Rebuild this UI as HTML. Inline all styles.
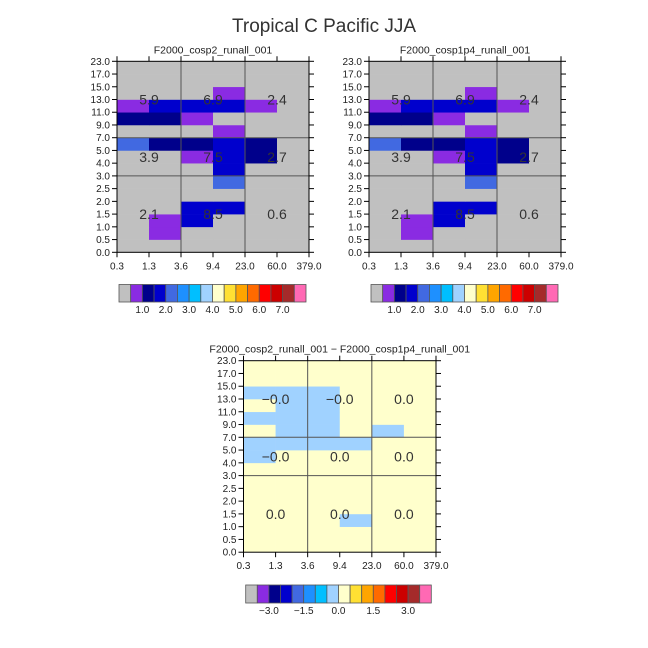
<!DOCTYPE html>
<html><head><meta charset="utf-8">
<style>
html,body{margin:0;padding:0;background:#fff;}
svg{display:block;font-family:"Liberation Sans",sans-serif;}
</style></head>
<body>
<svg id="chart" width="648" height="648" viewBox="0 0 648 648" xmlns="http://www.w3.org/2000/svg">
<text x="324" y="32" text-anchor="middle" font-size="19" fill="#333">Tropical C Pacific JJA</text>
</svg>
<script>
const xTickLabels = ["0.3","1.3","3.6","9.4","23.0","60.0","379.0"];
const yTickLabels = ["0.0","0.5","1.0","1.5","2.0","2.5","3.0","4.0","5.0","7.0","9.0","11.0","13.0","15.0","17.0","23.0"];
// values[row][col], row 0 = bottom
const model1Values = [
 [0,0,0,0,0,0],
 [0,0.7,0,0,0,0],
 [0,0.7,1.7,0,0,0],
 [0,0,1.7,1.7,0,0],
 [0,0,0,0,0,0],
 [0,0,0,2.2,0,0],
 [0,0,0,1.7,0,0],
 [0,0,0.7,1.7,1.2,0],
 [2.2,1.2,1.2,1.7,1.2,0],
 [0,0,0,0.7,0,0],
 [1.2,1.2,0.7,0,0,0],
 [0.7,1.7,1.7,1.7,0.7,0],
 [0,0,0,0.7,0,0],
 [0,0,0,0,0,0],
 [0,0,0,0,0,0]
];
const model2Values = model1Values;
const diffValues = [
 [0.1,0.1,0.1,0.1,0.1,0.1],
 [0.1,0.1,0.1,0.1,0.1,0.1],
 [0.1,0.1,0.1,-0.1,0.1,0.1],
 [0.1,0.1,0.1,0.1,0.1,0.1],
 [0.1,0.1,0.1,0.1,0.1,0.1],
 [0.1,0.1,0.1,0.1,0.1,0.1],
 [0.1,0.1,0.1,0.1,0.1,0.1],
 [-0.1,0.1,0.1,0.1,0.1,0.1],
 [-0.1,-0.1,-0.1,-0.1,0.1,0.1],
 [0.1,-0.1,-0.1,0.1,-0.1,0.1],
 [-0.1,-0.1,-0.1,0.1,0.1,0.1],
 [0.1,-0.1,-0.1,0.1,0.1,0.1],
 [-0.1,-0.1,-0.1,0.1,0.1,0.1],
 [0.1,0.1,0.1,0.1,0.1,0.1],
 [0.1,0.1,0.1,0.1,0.1,0.1]
];
// block labels: [bottom, middle, top][left, mid, right]
const model1Labels = [["2.1","8.5","0.6"],["3.9","7.5","2.7"],["5.9","6.9","2.4"]];
const model2Labels = [["2.1","8.5","0.6"],["3.9","7.5","2.7"],["5.9","6.9","2.4"]];
const diffLabels = [["0.0","0.0","0.0"],["\u22120.0","0.0","0.0"],["\u22120.0","\u22120.0","0.0"]];
const colors = ["#c0c0c0","#8a2be2","#00008b","#0000cd","#4169e1","#1e90ff","#00bfff","#a0d2ff","#ffffcc","#ffe033","#ffa500","#ff6a00","#ff0000","#cc0000","#a52a2a","#ff69b4"];
const absLevels = [0.5,1,1.5,2,2.5,3,3.5,4,4.5,5,5.5,6,6.5,7,7.5];
const absCbLabels = ["1.0","2.0","3.0","4.0","5.0","6.0","7.0"];
const diffLevels = [-3.5,-3,-2.5,-2,-1.5,-1,-0.5,0,0.5,1,1.5,2,2.5,3,3.5];
const diffCbLabels = ["\u22123.0","\u22121.5","0.0","1.5","3.0"];

const NS="http://www.w3.org/2000/svg";
const svg=document.getElementById('chart');
function mk(tag,attrs,parent){const e=document.createElementNS(NS,tag);for(const k in attrs)e.setAttribute(k,attrs[k]);(parent||svg).appendChild(e);return e;}
function colorFor(v,levels){let i=0;while(i<levels.length&&v>=levels[i])i++;return colors[i];}

function panel(id,title,x0,y0,w,h,vals,labels,levels){
  const g=mk('g',{});
  
  
  const nx=xTickLabels.length-1, ny=yTickLabels.length-1;
  const xs=c=>x0+c*w/nx, ys=r=>y0+h-r*h/ny;
  const t=mk('text',{x:x0+w/2,y:y0-8,'text-anchor':'middle','font-size':'10.5',fill:'#222'},g);
  t.textContent=title;
  
  
  for(let r=0;r<ny;r++)for(let c=0;c<nx;c++){
    const rc=mk('rect',{x:xs(c),y:ys(r+1),width:w/nx+0.3,height:h/ny+0.3,fill:colorFor(vals[r][c],levels)},g);
    
    
  }
  [2,4].forEach(c=>mk('line',{x1:xs(c),x2:xs(c),y1:y0,y2:y0+h,stroke:'#555','stroke-width':1},g));
  [6,9].forEach(r=>mk('line',{x1:x0,x2:x0+w,y1:ys(r),y2:ys(r),stroke:'#555','stroke-width':1},g));
  mk('rect',{x:x0,y:y0,width:w,height:h,fill:'none',stroke:'#000','stroke-width':1},g);
  const rowCenters=[3,7.5,12];
  for(let b=0;b<3;b++)for(let k=0;k<3;k++){
    const tx=mk('text',{x:xs(2*k+1),y:ys(rowCenters[b])+5,'text-anchor':'middle','font-size':'14',fill:'#333'},g);
    tx.textContent=labels[b][k];
    
    
  }
  for(let r=0;r<=ny;r++){
    mk('line',{x1:x0-5,x2:x0,y1:ys(r),y2:ys(r),stroke:'#000'},g);
    mk('line',{x1:x0+w,x2:x0+w+5,y1:ys(r),y2:ys(r),stroke:'#000'},g);
    const tl=mk('text',{x:x0-7,y:ys(r)+3.5,'text-anchor':'end','font-size':'10',fill:'#222'},g);
    tl.textContent=yTickLabels[r];
    
    
  }
  for(let c=0;c<=nx;c++){
    mk('line',{x1:xs(c),x2:xs(c),y1:y0+h,y2:y0+h+5,stroke:'#000'},g);
    mk('line',{x1:xs(c),x2:xs(c),y1:y0-5,y2:y0,stroke:'#000'},g);
    const tl=mk('text',{x:xs(c),y:y0+h+17,'text-anchor':'middle','font-size':'10',fill:'#222'},g);
    tl.textContent=xTickLabels[c];
    
    
  }
}
function colorbar(id,x0,y0,w,h,labels,firstBoundary){
  const g=mk('g',{});
  
  
  const bw=w/colors.length;
  colors.forEach((col,i)=>{
    const r=mk('rect',{x:x0+i*bw,y:y0,width:bw,height:h,fill:col,stroke:'#555','stroke-width':0.8},g);
    
    
  });
  const step=(labels.length===7)?2:3;
  labels.forEach((lb,i)=>{
    const t=mk('text',{x:x0+(firstBoundary+i*step)*bw,y:y0+h+11,'text-anchor':'middle','font-size':'10',fill:'#222'},g);
    t.textContent=lb;
    
    
  });
}
panel('model1','F2000_cosp2_runall_001',117,61.3,192,191,model1Values,model1Labels,absLevels);
panel('model2','F2000_cosp1p4_runall_001',369,61.3,192,191,model2Values,model2Labels,absLevels);
panel('diff','F2000_cosp2_runall_001 \u2212 F2000_cosp1p4_runall_001',243.5,360.7,192.5,191.5,diffValues,diffLabels,diffLevels);
colorbar('colorbar-model1',119,284.5,187,17.5,absCbLabels,2);
colorbar('colorbar-model2',371,284.5,187,17.5,absCbLabels,2);
colorbar('colorbar-diff',245.7,585,185.6,18,diffCbLabels,2);
</script>
</body></html>
